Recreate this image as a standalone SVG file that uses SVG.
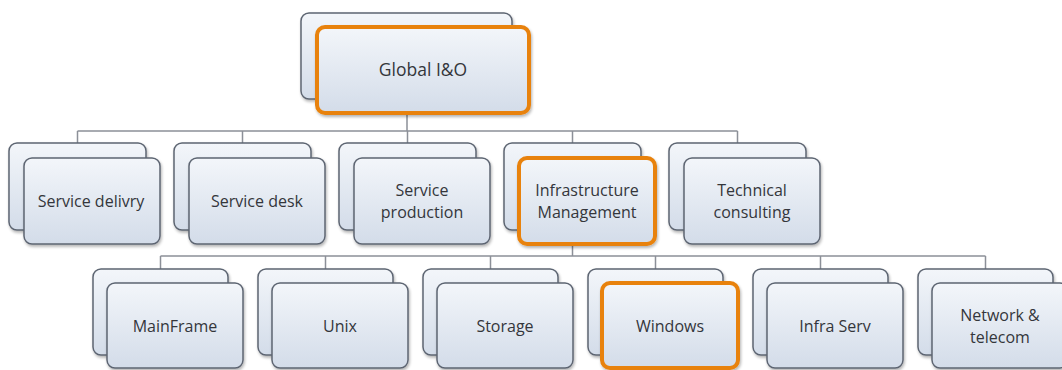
<svg xmlns="http://www.w3.org/2000/svg" width="1062" height="370" viewBox="0 0 1062 370">
<defs>
<linearGradient id="g" x1="0" y1="0" x2="0" y2="1">
<stop offset="0" stop-color="#f3f6fa"/>
<stop offset="1" stop-color="#d3dce9"/>
</linearGradient>
<filter id="sh" x="-10%" y="-10%" width="125%" height="130%">
<feGaussianBlur in="SourceAlpha" stdDeviation="1.5"/>
<feOffset dx="1" dy="2" result="b"/>
<feComponentTransfer><feFuncA type="linear" slope="0.3"/></feComponentTransfer>
<feMerge><feMergeNode/><feMergeNode in="SourceGraphic"/></feMerge>
</filter>
</defs>
<style>
.bx{fill:url(#g);stroke:#5d6572;stroke-width:1.5;filter:url(#sh)}
.hi{fill:url(#g);stroke:#e8820e;stroke-width:4;filter:url(#sh)}
.t{font-family:"Open Sans","Liberation Sans",sans-serif;font-size:16px;fill:#34363b;text-anchor:middle}
.c{fill:none;stroke:#8c9098;stroke-width:1.5}
</style>
<rect width="1062" height="370" fill="#ffffff"/>
<g id="connectors">
<path class="c" d="M407 113V131M77.5 131H737.5M77.5 131V143M242.5 131V143M407.5 131V143M572.5 131V143M737.5 131V143"/>
<path class="c" d="M572.5 244V256M160.5 256H985.5M160.5 256V269M325.5 256V269M490.5 256V269M655.5 256V269M820.5 256V269M985.5 256V269"/>
</g>
<g id="global">
<rect class="bx" x="301" y="13" width="211" height="86" rx="8"/>
<rect class="hi" x="317" y="27" width="212" height="86" rx="8"/>
<text class="t" x="423" y="76" style="font-size:17.5px">Global I&amp;O</text>
</g>
<g id="service-delivry">
<rect class="bx" x="9" y="143" width="137" height="87" rx="8"/>
<rect class="bx" x="24" y="158" width="136" height="86" rx="8"/>
<text class="t" x="91" y="207">Service delivry</text>
</g>
<g id="service-desk">
<rect class="bx" x="174" y="143" width="137" height="87" rx="8"/>
<rect class="bx" x="189" y="158" width="136" height="86" rx="8"/>
<text class="t" x="257" y="207">Service desk</text>
</g>
<g id="service-production">
<rect class="bx" x="339" y="143" width="137" height="87" rx="8"/>
<rect class="bx" x="354" y="158" width="136" height="86" rx="8"/>
<text class="t" x="422" y="196">Service</text>
<text class="t" x="422" y="218">production</text>
</g>
<g id="infrastructure-management">
<rect class="bx" x="504" y="143" width="137" height="87" rx="8"/>
<rect class="hi" x="519" y="158" width="136" height="86" rx="8"/>
<text class="t" x="587" y="196">Infrastructure</text>
<text class="t" x="587" y="218">Management</text>
</g>
<g id="technical-consulting">
<rect class="bx" x="669" y="143" width="137" height="87" rx="8"/>
<rect class="bx" x="684" y="158" width="136" height="86" rx="8"/>
<text class="t" x="752" y="196">Technical</text>
<text class="t" x="752" y="218">consulting</text>
</g>
<g id="mainframe">
<rect class="bx" x="93" y="269" width="135" height="86" rx="8"/>
<rect class="bx" x="107" y="283" width="136" height="85" rx="8"/>
<text class="t" x="175" y="332">MainFrame</text>
</g>
<g id="unix">
<rect class="bx" x="258" y="269" width="135" height="86" rx="8"/>
<rect class="bx" x="272" y="283" width="136" height="85" rx="8"/>
<text class="t" x="340" y="332">Unix</text>
</g>
<g id="storage">
<rect class="bx" x="423" y="269" width="135" height="86" rx="8"/>
<rect class="bx" x="437" y="283" width="136" height="85" rx="8"/>
<text class="t" x="505" y="332">Storage</text>
</g>
<g id="windows">
<rect class="bx" x="588" y="269" width="135" height="86" rx="8"/>
<rect class="hi" x="602" y="283" width="136" height="85" rx="8"/>
<text class="t" x="670" y="332">Windows</text>
</g>
<g id="infra-serv">
<rect class="bx" x="753" y="269" width="135" height="86" rx="8"/>
<rect class="bx" x="767" y="283" width="136" height="85" rx="8"/>
<text class="t" x="835" y="332">Infra Serv</text>
</g>
<g id="network-telecom">
<rect class="bx" x="918" y="269" width="135" height="86" rx="8"/>
<rect class="bx" x="932" y="283" width="136" height="85" rx="8"/>
<text class="t" x="1000" y="321">Network &amp;</text>
<text class="t" x="1000" y="343">telecom</text>
</g>
</svg>
